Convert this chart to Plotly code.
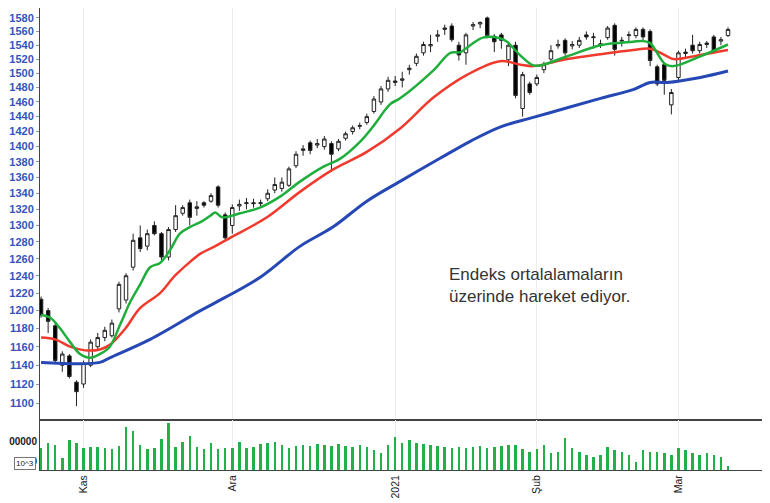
import plotly.graph_objects as go
from plotly.subplots import make_subplots

# mumlar: açılış, kapanış, en yüksek, en düşük
acilis = [1213, 1200, 1183, 1140, 1150, 1122, 1120, 1140, 1160, 1170, 1172, 1202, 1212, 1250, 1285, 1275,
          1300, 1290, 1262, 1295, 1315, 1328, 1321, 1328, 1330, 1348, 1313, 1300, 1324, 1327, 1328, 1327,
          1333, 1344, 1346, 1350, 1375, 1395, 1405, 1402, 1400, 1404, 1397, 1411, 1420, 1427, 1432, 1447,
          1460, 1478, 1487, 1490, 1505, 1514, 1529, 1539, 1553, 1563, 1568, 1540, 1529, 1568, 1571, 1580,
          1553, 1555, 1519, 1540, 1451, 1485, 1485, 1505, 1520, 1539, 1547, 1539, 1540, 1555, 1551, 1540,
          1551, 1569, 1546, 1554, 1554, 1563, 1560, 1509, 1512, 1456, 1494, 1528, 1540, 1532, 1541, 1552,
          1546, 1554]
kapanis = [1195, 1188, 1145, 1152, 1128, 1112, 1142, 1165, 1170, 1178, 1186, 1230, 1240, 1282, 1272, 1290,
           1290, 1262, 1295, 1312, 1322, 1310, 1323, 1325, 1337, 1325, 1285, 1322, 1326, 1328, 1327, 1328,
           1340, 1351, 1354, 1371, 1390, 1397, 1395, 1404, 1410, 1390, 1407, 1417, 1425, 1428, 1440, 1464,
           1478, 1490, 1489, 1492, 1507, 1524, 1541, 1541, 1555, 1565, 1548, 1526, 1555, 1570, 1573, 1554,
           1545, 1547, 1540, 1469, 1498, 1473, 1494, 1512, 1532, 1541, 1529, 1541, 1547, 1552, 1552, 1542,
           1565, 1534, 1547, 1555, 1563, 1552, 1518, 1485, 1490, 1473, 1529, 1530, 1532, 1541, 1543, 1532,
           1548, 1563]
yuksek = [1216, 1203, 1186, 1155, 1152, 1124, 1145, 1168, 1175, 1182, 1190, 1233, 1243, 1290, 1300, 1295,
          1305, 1292, 1298, 1325, 1325, 1332, 1330, 1330, 1340, 1350, 1316, 1326, 1332, 1334, 1333, 1332,
          1345, 1360, 1360, 1374, 1394, 1402, 1408, 1410, 1414, 1407, 1410, 1420, 1428, 1432, 1444, 1468,
          1482, 1495, 1496, 1502, 1512, 1528, 1545, 1555, 1562, 1570, 1572, 1545, 1558, 1574, 1575, 1582,
          1556, 1558, 1545, 1545, 1502, 1488, 1498, 1516, 1540, 1548, 1550, 1546, 1552, 1560, 1558, 1548,
          1568, 1572, 1552, 1560, 1566, 1566, 1563, 1512, 1515, 1478, 1532, 1535, 1555, 1545, 1546, 1555,
          1552, 1566]
dusuk = [1192, 1175, 1142, 1133, 1126, 1097, 1116, 1138, 1157, 1166, 1170, 1198, 1208, 1246, 1268, 1270,
         1288, 1258, 1258, 1292, 1312, 1300, 1312, 1322, 1328, 1322, 1282, 1290, 1318, 1320, 1322, 1322,
         1330, 1340, 1342, 1348, 1372, 1388, 1390, 1398, 1396, 1367, 1394, 1408, 1416, 1423, 1429, 1444,
         1456, 1474, 1482, 1480, 1498, 1510, 1525, 1530, 1545, 1555, 1545, 1518, 1512, 1562, 1565, 1550,
         1530, 1535, 1510, 1465, 1440, 1470, 1482, 1500, 1516, 1535, 1525, 1534, 1536, 1548, 1535, 1536,
         1548, 1525, 1538, 1545, 1550, 1545, 1510, 1482, 1470, 1443, 1490, 1520, 1528, 1528, 1536, 1530,
         1540, 1552]

hacim = [167, 195, 184, 118, 208, 195, 167, 175, 175, 167, 162, 179, 271, 254, 184, 162, 167, 212, 291, 172,
         200, 228, 175, 162, 195, 162, 167, 167, 200, 167, 175, 189, 192, 200, 184, 167,
         180, 185, 178, 190, 182, 176, 188, 180, 172, 185, 175,
         159, 143, 184, 225, 192, 208, 192, 189, 184, 179, 175, 167, 172, 167, 172, 179, 167, 175, 179, 184,
         184, 162, 151, 162, 184, 146, 151, 217, 167, 151, 134, 126, 134, 175, 159, 151, 134, 101, 159, 151,
         151, 146, 134, 167, 159, 143, 134, 143, 134, 126, 80]

# hareketli ortalamalar (okunan noktalar)
ort_x = [0, 1.3, 2.7, 4.1, 5.5, 6.9, 8.3, 9.7, 11.2, 12.6, 14, 15.4, 16.8, 18.2, 19.6, 21, 22.5, 23.9,
         24.6, 25.6, 28.1, 30.9, 33.8, 36.6, 39.7, 42.2, 45.1, 46.9, 49.3, 50.7, 55.4, 57.8, 59.2, 60.6,
         62.4, 64.8, 65.8, 67.7, 69.5, 70.5, 74.3, 79, 83.6, 85, 86, 88.1, 89.3, 93.1, 97]
yesil = [1195, 1192, 1180, 1165, 1152, 1148, 1152, 1160, 1185, 1210, 1230, 1250, 1255, 1270, 1290, 1298,
         1304, 1312, 1316, 1310, 1315, 1322, 1336, 1355, 1373, 1384, 1407, 1427, 1457, 1465, 1504, 1529,
         1530, 1540, 1551, 1550, 1545, 1525, 1511, 1511, 1524, 1540, 1545, 1546, 1543, 1513, 1510, 1524, 1541]
mavi_x = [0, 8.3, 9.7, 15.4, 22.5, 26, 30.9, 36.6, 41.2, 46, 50.7, 56.4, 60.6, 64.8, 69.5, 74.3, 79,
          83.6, 86, 88.4, 93.1, 97]
mavi = [1143, 1143, 1148, 1168, 1200, 1215, 1238, 1275, 1298, 1330, 1355, 1385, 1407, 1426, 1439, 1452,
        1465, 1477, 1487, 1487, 1494, 1503]
kirmizi_x = [0, 2, 4.1, 6.2, 8.3, 9.7, 11.9, 14, 16.8, 18.9, 21, 22.5, 24.6, 26.7, 31.9, 36.6, 41.2, 46,
             50.7, 55.4, 60.2, 64.8, 67.7, 69.5, 74.3, 79, 83.6, 86, 88.4, 89.3, 93.1, 97]
kirmizi = [1170, 1168, 1160, 1156, 1157, 1162, 1180, 1203, 1220, 1240, 1256, 1266, 1275, 1285, 1310, 1342,
           1370, 1393, 1424, 1466, 1498, 1517, 1512, 1510, 1520, 1527, 1533, 1535, 1524, 1520, 1526, 1533]

tarih_yer = [6, 27, 50, 70, 90]
tarih_adi = ["Kas", "Ara", "2021", "Şub", "Mar"]
fiyat_tick = list(range(1100, 1581, 20))

gun = list(range(len(kapanis)))

fig = make_subplots(rows=2, cols=1, shared_xaxes=True, vertical_spacing=0, row_heights=[0.89, 0.11])

fig.add_trace(go.Candlestick(
    x=gun, open=acilis, high=yuksek, low=dusuk, close=kapanis,
    increasing=dict(fillcolor="white", line=dict(color="#222222", width=1)),
    decreasing=dict(fillcolor="black", line=dict(color="#222222", width=1)),
    whiskerwidth=0, showlegend=False), row=1, col=1)
fig.add_trace(go.Scatter(x=mavi_x, y=mavi, mode="lines", line=dict(color="#2648b5", width=3, shape="spline"),
                         showlegend=False), row=1, col=1)
fig.add_trace(go.Scatter(x=kirmizi_x, y=kirmizi, mode="lines", line=dict(color="#f03a2e", width=2.5, shape="spline"),
                         showlegend=False), row=1, col=1)
fig.add_trace(go.Scatter(x=ort_x, y=yesil, mode="lines", line=dict(color="#1fae3c", width=2.5, shape="spline"),
                         showlegend=False), row=1, col=1)
fig.add_trace(go.Bar(x=gun, y=hacim, width=0.35, marker=dict(color="#22b04a", line=dict(width=0)),
                     showlegend=False), row=2, col=1)

ax = dict(showline=True, linecolor="#444444", linewidth=1, mirror=True, zeroline=False, automargin=False)
fig.update_xaxes(range=[-0.15, 101.8], showgrid=True, gridcolor="#ececec", tickvals=tarih_yer,
                 ticktext=tarih_adi, tickangle=-90, rangeslider_visible=False,
                 tickfont=dict(family="Arial, Liberation Sans", size=10.5, color="#222222"), **ax)
fig.update_xaxes(showticklabels=False, row=1, col=1)
fig.update_yaxes(type="log", range=[3.0345, 3.2027], tickvals=fiyat_tick, showgrid=False,
                 ticks="outside", ticklen=3, tickcolor="#999999",
                 tickfont=dict(family="Arial, Liberation Sans", size=11, color="#3355bb", weight="bold"),
                 row=1, col=1, **ax)
fig.update_yaxes(range=[60, 307], tickvals=[100, 200], ticktext=["0", "00000"], showgrid=False,
                 tickfont=dict(family="Arial, Liberation Sans", size=10, color="#222222", weight="bold"),
                 row=2, col=1, **ax)
fig.update_layout(
    width=770, height=495, margin=dict(l=32, r=16, t=0, b=33),
    plot_bgcolor="white", paper_bgcolor="white", bargap=0,
    yaxis=dict(domain=[0.108, 1]), yaxis2=dict(domain=[0, 0.108]),
    annotations=[
        dict(text="Endeks ortalalamaların<br>üzerinde hareket ediyor.", x=0.564, y=0.4, xref="paper",
             yref="paper", xanchor="left", yanchor="middle", align="left", showarrow=False,
             font=dict(family="Arial, Liberation Sans", size=17, color="#333333")),
        dict(text="10^3", x=-0.005, y=0.0, xref="paper", yref="paper", xanchor="right", yanchor="bottom",
             showarrow=False, bgcolor="white", bordercolor="#777777", borderwidth=1, borderpad=1,
             font=dict(family="Arial, Liberation Sans", size=8, color="#222222")),
    ],
)

fig.write_html("out.html")
